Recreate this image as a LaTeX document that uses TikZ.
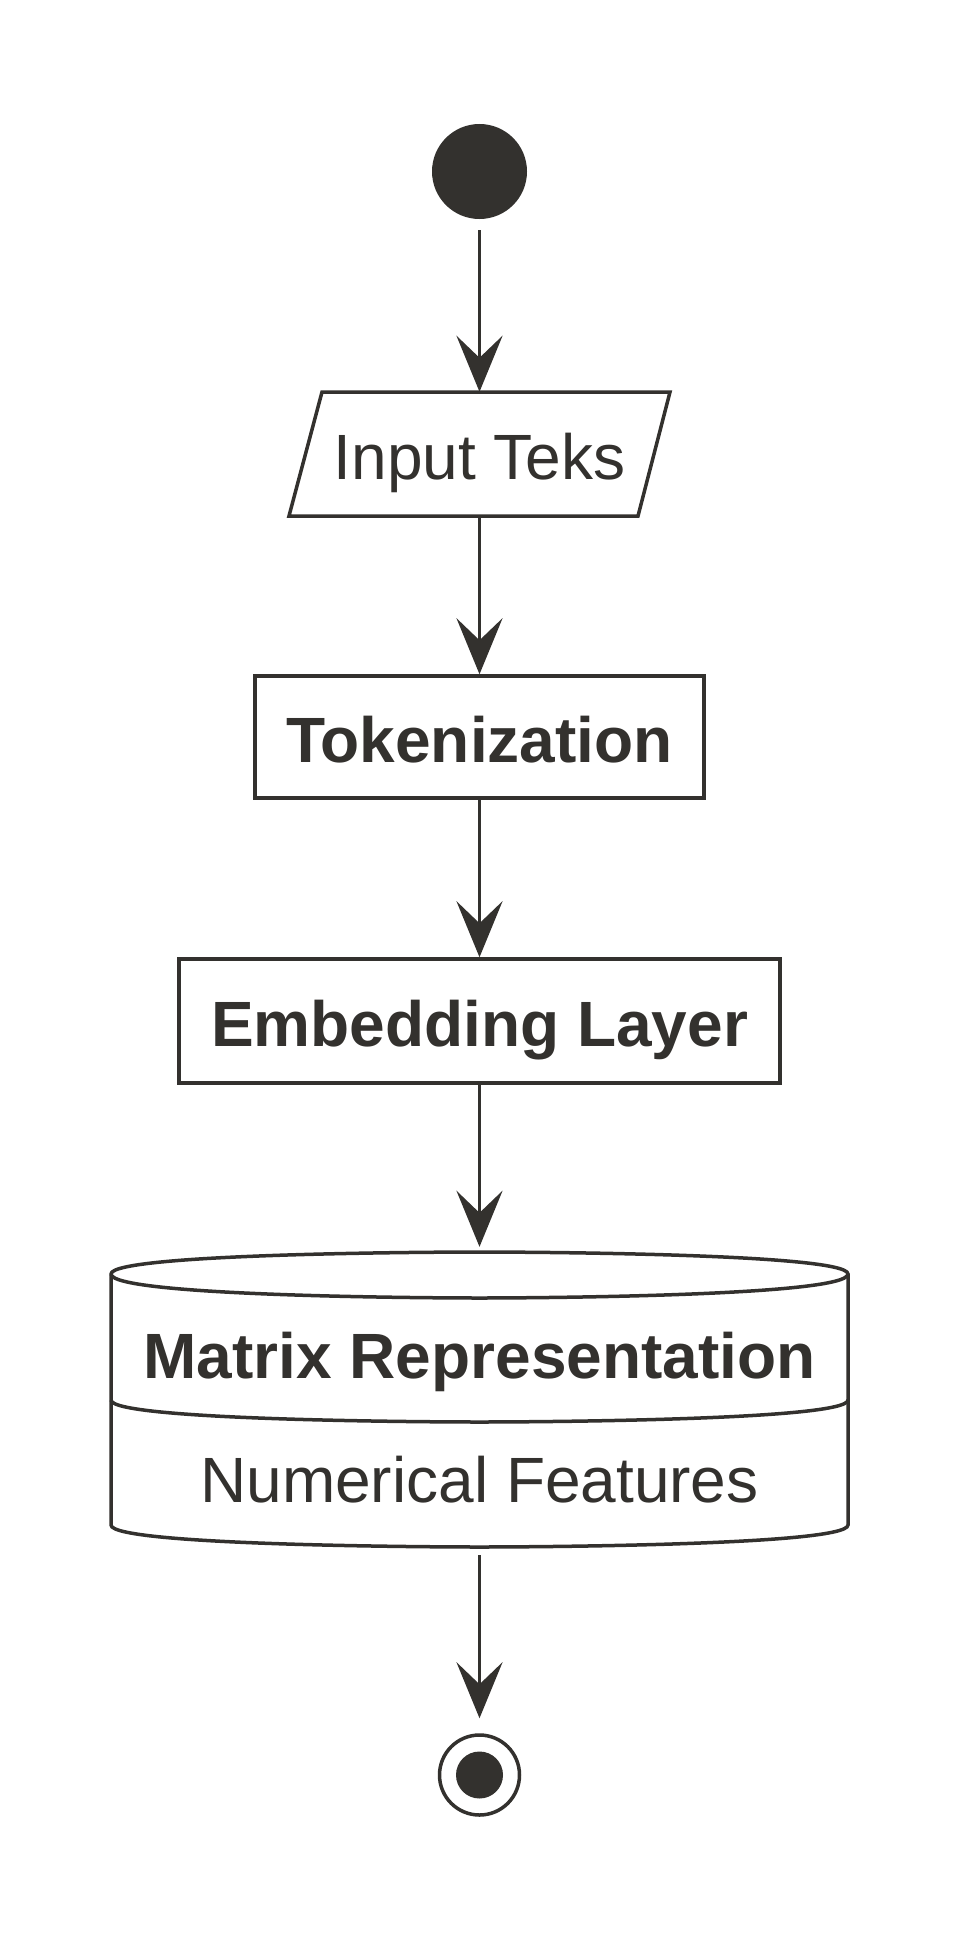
\documentclass[tikz,border=0pt]{standalone}
\usepackage{fontspec}
\setmainfont{Liberation Sans}
\usetikzlibrary{arrows.meta}
\definecolor{ink}{RGB}{51,49,46}
\begin{document}
\begin{tikzpicture}[x=1pt,y=-1pt,
  every node/.style={text=ink, font=\fontsize{64}{70}\selectfont},
  shapeline/.style={draw=ink, line width=3.5pt},
  box/.style={shapeline, rectangle, inner sep=0pt, text height=50pt, text depth=0pt},
  ghost/.style={rectangle, inner sep=0pt, text height=50pt, text depth=0pt},
  flow/.style={draw=ink, line width=3.5pt, -{Stealth[length=56pt,width=46pt,inset=22pt]}},
  bold/.style={font=\fontsize{64}{70}\selectfont\bfseries}]
\useasboundingbox (0,0) rectangle (960,1948);
\fill[white] (0,0) rectangle (960,1948);

% start
\node[circle, fill=ink, minimum size=95pt, inner sep=0pt] (start) at (479.5,171.5) {};

% input parallelogram
\node[ghost, minimum width=381pt, minimum height=124pt] (input) at (479.5,454) {Input Teks};
\draw[shapeline, line join=miter] (322,392) -- (670,392) -- (638,516) -- (289,516) -- cycle;

% tokenization
\node[box, bold, minimum width=449pt, minimum height=122pt] (tok) at (479.5,737) {Tokenization};

% embedding
\node[box, bold, minimum width=601pt, minimum height=124pt] (emb) at (479.5,1021) {Embedding Layer};

% database
\node[rectangle, inner sep=0pt, minimum width=737pt, minimum height=295pt] (db) at (479.5,1399.5) {};
\draw[shapeline] (111,1274) .. controls (111,1252) and (479.5,1252) .. (479.5,1252)
  .. controls (479.5,1252) and (848,1252) .. (848,1274)
  -- (848,1525) .. controls (848,1547) and (479.5,1547) .. (479.5,1547)
  .. controls (479.5,1547) and (111,1547) .. (111,1525) -- cycle;
\draw[shapeline] (111,1274) .. controls (111,1298) and (479.5,1298) .. (479.5,1298)
  .. controls (479.5,1298) and (848,1298) .. (848,1274);
\draw[shapeline] (111,1400) .. controls (111,1422) and (479.5,1422) .. (479.5,1422)
  .. controls (479.5,1422) and (848,1422) .. (848,1400);
\node[bold, anchor=base, inner sep=0pt] (mtitle) at (479.5,1378) {Matrix Representation};
\node[anchor=base, inner sep=0pt] (msub) at (479.5,1502) {Numerical Features};

% end
\node[circle, draw=ink, line width=3.5pt, minimum size=80pt, inner sep=0pt] (end) at (479.5,1775) {};
\node[circle, fill=ink, minimum size=47pt, inner sep=0pt] (endin) at (end.center) {};

% connectors
\draw[flow, shorten <=11pt] (start) -- (input.north);
\draw[flow] (input.south) -- (tok.north);
\draw[flow] (tok.south) -- (emb.north);
\draw[flow, shorten >=5pt] (emb.south) -- (db.north);
\draw[flow, shorten <=8pt, shorten >=15pt] (db.south) -- (end.north);
\end{tikzpicture}
\end{document}
